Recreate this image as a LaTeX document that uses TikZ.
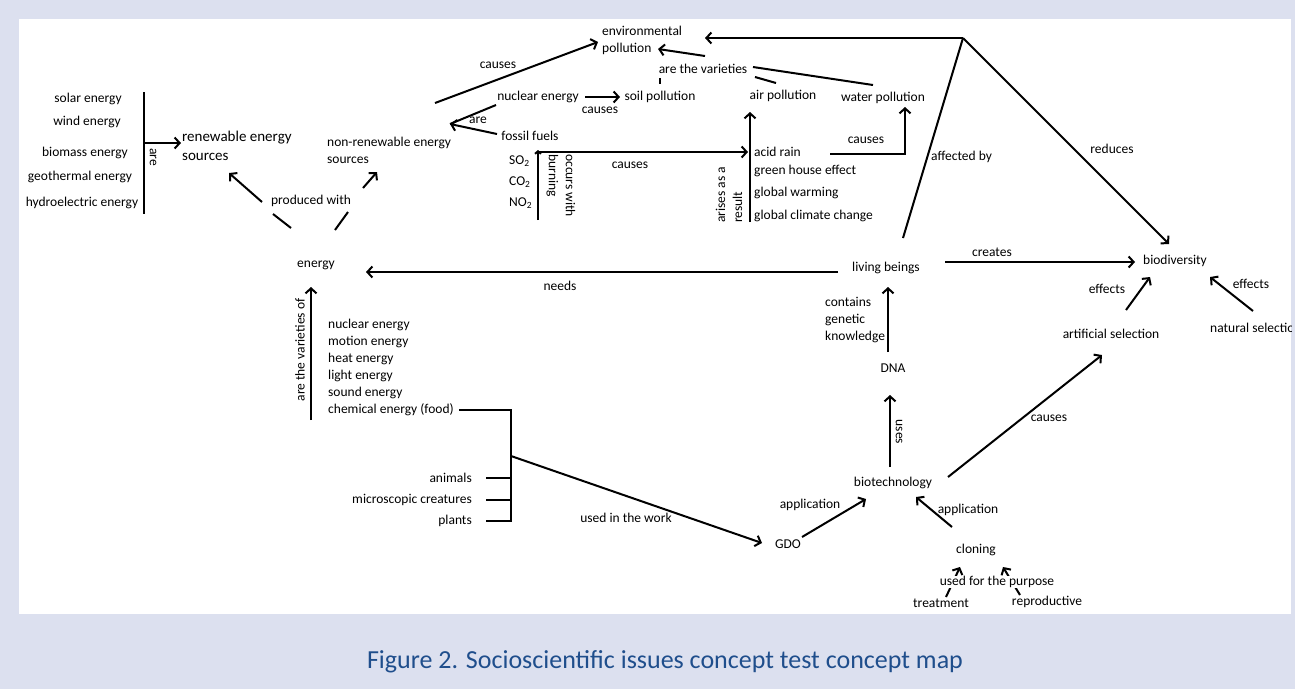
\documentclass[tikz,border=0pt]{standalone}
\usepackage{fontspec}
\setmainfont{Carlito}
\usetikzlibrary{arrows.meta}
\definecolor{bandbg}{RGB}{220,224,239}
\definecolor{capblue}{RGB}{31,78,140}
\begin{document}
\begin{tikzpicture}[x=1pt,y=-1pt,
  lbl/.style={font=\fontsize{13.5}{17}\selectfont, inner sep=1pt},
  big/.style={font=\fontsize{15}{19}\selectfont, inner sep=1pt},
  conn/.style={line width=2pt},
  arr/.style={conn,-{Straight Barb[length=5pt,width=11pt]}},
  smallarr/.style={conn,-{Straight Barb[length=2.5pt,width=6pt]}},
]
\useasboundingbox (0,0) rectangle (1295,689);
\fill[bandbg] (0,0) rectangle (1295,689);
\fill[white] (19,19) rectangle (1291,614);

% ---------- left: renewable sources
\node[lbl] (solar) at (88,99) {solar energy};
\node[lbl] (wind) at (87,122) {wind energy};
\node[lbl] (biomass) at (85,153) {biomass energy};
\node[lbl] (geo) at (80,177) {geothermal energy};
\node[lbl] (hydro) at (82,203) {hydroelectric energy};
\coordinate (bartop) at (144,92);
\coordinate (barbot) at (144,214);
\coordinate (barmid) at (144,143);
\draw[conn] (bartop) -- (barbot);
\node[big, align=left, anchor=west] (renew) at (181,146) {renewable energy\\sources};
\draw[arr] (barmid) -- (renew.west |- barmid);
\node[lbl, rotate=-90] (are1) at (153,157) {are};

\node[lbl, align=left, anchor=west] (nonrenew) at (326,150) {non-renewable energy\\sources};
\node[lbl] (prod) at (311,201) {produced with};
\node[lbl] (energy) at (316,265) {energy};
\coordinate (p1a) at (291,228); \coordinate (p1b) at (273,214);
\coordinate (p1c) at (262,202); \coordinate (p1d) at (229,173);
\draw[conn] (p1a) -- (p1b);
\draw[arr] (p1c) -- (p1d);
\coordinate (p2a) at (335,230); \coordinate (p2b) at (348,212);
\coordinate (p2c) at (363,188); \coordinate (p2d) at (377,172);
\draw[conn] (p2a) -- (p2b);
\draw[arr] (p2c) -- (p2d);

% ---------- pollution
\node[lbl, align=left, anchor=west] (envpol) at (601,40) {environmental\\pollution};
\coordinate (cs1) at (435,103);
\draw[arr] (cs1) -- (598,42);
\node[lbl] (causes1) at (498,65) {causes};

\node[lbl] (nuclear) at (538,97) {nuclear energy};
\node[lbl] (soil) at (660,97) {soil pollution};
\node[lbl] (fossil) at (530,136) {fossil fuels};
\draw[arr] (585,97) -- (620,97);
\node[lbl] (causes2) at (600,110) {causes};
\coordinate (aretip) at (450,124);
\draw[conn] (496,105) -- (aretip);
\draw[arr] (497,134) -- (aretip);
\node[lbl] (are2) at (478,120) {are};

\node[lbl] (varieties) at (703,69) {are the varieties};
\node[lbl] (air) at (783,96) {air pollution};
\node[lbl] (water) at (883,98) {water pollution};
\draw[conn] (660,78) -- (660,84);
\draw[conn] (755,77) -- (776,83);
\draw[conn] (753,67) -- (873,85);
\draw[arr] (705,56) -- (658,49);

\node[lbl, anchor=west] (acid) at (753,152) {acid rain};
\node[lbl, anchor=west] (green) at (753,171) {green house effect};
\node[lbl, anchor=west] (warm) at (753,193) {global warming};
\node[lbl, anchor=west] (climate) at (753,216) {global climate change};

\node[lbl, anchor=west] (so2) at (508,161) {SO\textsubscript{2}};
\node[lbl, anchor=west] (co2) at (508,182) {CO\textsubscript{2}};
\node[lbl, anchor=west] (no2) at (508,203) {NO\textsubscript{2}};
\draw[smallarr] (538,220) -- (538,150);
\draw[arr] (537,152) -- (748,152);
\node[lbl] (causes3) at (630,165) {causes};
\node[lbl, rotate=-90, anchor=west, align=left] (occ) at (561,153) {occurs with\\burning};
\node[lbl, rotate=90, anchor=west, align=left] (arise) at (729,224) {arises as a\\result};
\draw[arr] (750,222) -- (750,112);

\draw[arr] (830,154) -- (905,154) -- (905,107);
\node[lbl] (causes4) at (866,140) {causes};

% ---------- top right
\coordinate (corner) at (963,38);
\draw[arr] (corner) -- (705,38);
\draw[conn] (903,238) -- (corner);
\draw[arr] (corner) -- (1169,244);
\node[lbl, anchor=west] (affected) at (930,157) {affected by};
\node[lbl] (reduces) at (1112,149) {reduces};

\node[lbl] (living) at (886,268) {living beings};
\node[lbl] (biodiv) at (1175,261) {biodiversity};
\draw[arr] (945,262) -- (1135,262);
\node[lbl] (creates) at (992,252) {creates};
\node[lbl] (artsel) at (1111,334) {artificial selection};
\draw[arr] (1126,310) -- (1150,277);
\node[lbl] (eff1) at (1107,289) {effects};
\begin{scope}
\clip (19,19) rectangle (1291,614);
\node[lbl, anchor=west] (natsel) at (1209,328) {natural selection};
\end{scope}
\draw[arr] (1253,311) -- (1210,277);
\node[lbl] (eff2) at (1251,284) {effects};

\draw[arr] (838,272) -- (366,272);
\node[lbl] (needs) at (560,286) {needs};

% ---------- energy varieties
\node[lbl, rotate=90] (varof) at (300,350) {are the varieties of};
\draw[arr] (311,420) -- (311,287);
\node[lbl, anchor=west] (e1) at (327,325) {nuclear energy};
\node[lbl, anchor=west] (e2) at (327,342) {motion energy};
\node[lbl, anchor=west] (e3) at (327,359) {heat energy};
\node[lbl, anchor=west] (e4) at (327,376) {light energy};
\node[lbl, anchor=west] (e5) at (327,393) {sound energy};
\node[lbl, anchor=west] (e6) at (327,410) {chemical energy (food)};
\draw[conn] (459,410) -- (511,410) -- (511,522);
\node[lbl, anchor=east] (animals) at (473,478) {animals};
\node[lbl, anchor=east] (micro) at (473,500) {microscopic creatures};
\node[lbl, anchor=east] (plants) at (473,521) {plants};
\draw[conn] (486,478) -- (511,478);
\draw[conn] (486,500) -- (511,500);
\draw[conn] (486,521) -- (511,521);
\draw[arr] (511,456) -- (762,543);
\node[lbl] (work) at (626,518) {used in the work};

% ---------- biotechnology
\node[lbl] (gdo) at (788,544) {GDO};
\node[lbl] (biotech) at (893,483) {biotechnology};
\draw[arr] (802,537) -- (866,499);
\node[lbl] (app1) at (810,505) {application};
\node[lbl] (dna) at (893,368) {DNA};
\draw[arr] (890,467) -- (890,395);
\node[lbl, rotate=-90] (uses) at (899,432) {uses};
\draw[arr] (888,352) -- (888,287);
\node[lbl, anchor=west, align=left] (contains) at (824,320) {contains\\genetic\\knowledge};
\draw[arr] (948,477) -- (1102,355);
\node[lbl] (causes5) at (1049,418) {causes};
\node[lbl] (cloning) at (976,550) {cloning};
\draw[arr] (952,527) -- (916,497);
\node[lbl] (app2) at (968,510) {application};
\draw[arr] (946,597) -- (960,567);
\draw[arr] (1020,595) -- (1003,567);
\node[lbl, fill=white, inner sep=0.5pt] (purpose) at (997,582) {used for the purpose};
\node[lbl] (treat) at (941,603) {treatment};
\node[lbl] (repro) at (1047,602) {reproductive};

% ---------- caption
\node[font=\fontsize{26}{30}\selectfont, text=capblue] (cap) at (665,662) {Figure 2. Socioscientific issues concept test concept map};
\end{tikzpicture}
\end{document}
